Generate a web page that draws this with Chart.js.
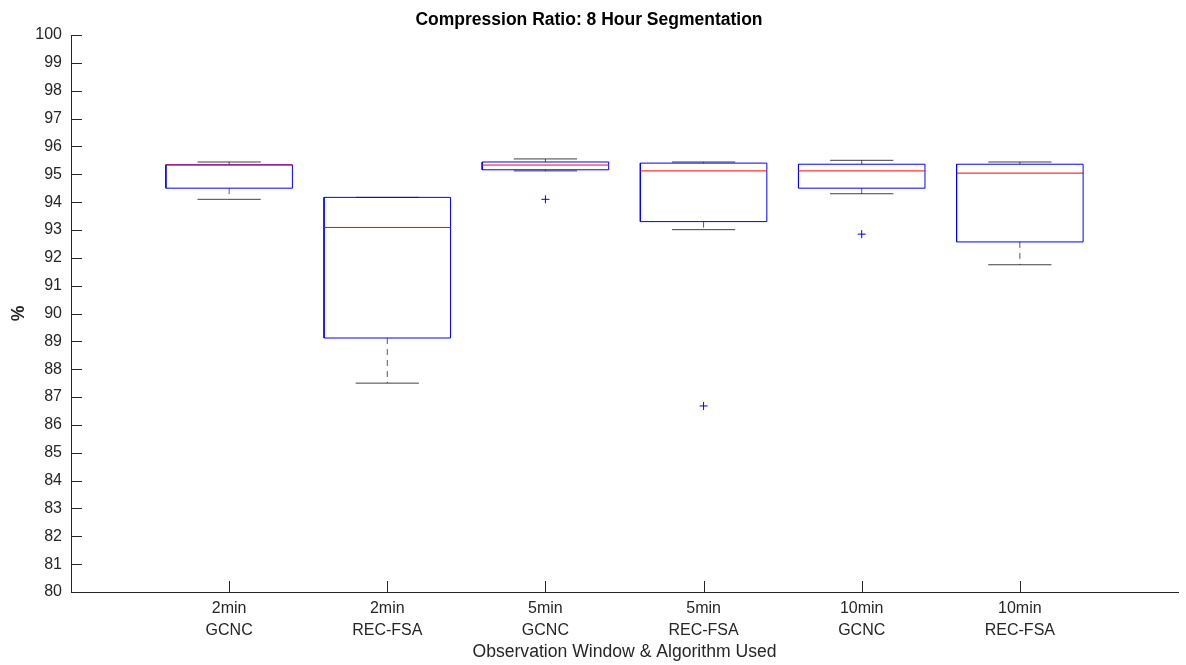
<!DOCTYPE html>
<html>
<head>
<meta charset="utf-8">
<script src="https://cdn.jsdelivr.net/npm/chart.js@4.4.0/dist/chart.umd.min.js"></script>
<style>
  body { margin: 0; background: #fff; }
  canvas { display: block; }
</style>
</head>
<body>
<canvas id="boxChart" width="1186" height="665"></canvas>
<script>
// observation windows / algorithms (two-line category labels)
const windows = ["2min", "2min", "5min", "5min", "10min", "10min"];
const algos = ["GCNC", "REC-FSA", "GCNC", "REC-FSA", "GCNC", "REC-FSA"];

// box plot stats (%)
const whiskerLo = [94.10, 87.50, 95.12, 93.01, 94.30, 91.75];
const q1 = [94.50, 89.12, 95.16, 93.30, 94.50, 92.57];
const median = [95.33, 93.09, 95.33, 95.12, 95.12, 95.04];
const q3 = [95.34, 94.17, 95.44, 95.40, 95.36, 95.36];
const whiskerHi = [95.44, 94.17, 95.55, 95.44, 95.50, 95.44];
const outliers = [[], [], [94.10], [86.68], [92.85], []];

const yTicks = [80, 100];

const BOX_HALF = 0.4;
const CAP_HALF = 0.2;
const GAP = { x: NaN, y: null };

function buildBoxes() {
  const pts = [];
  q1.forEach((lo, i) => {
    const x = i + 1, hi = q3[i];
    pts.push({ x: x - BOX_HALF, y: lo }, { x: x + BOX_HALF, y: lo },
             { x: x + BOX_HALF, y: hi }, { x: x - BOX_HALF, y: hi },
             { x: x - BOX_HALF, y: lo }, GAP);
  });
  return pts;
}

function buildMedians() {
  const pts = [];
  median.forEach((m, i) => {
    pts.push({ x: i + 1 - BOX_HALF, y: m }, { x: i + 1 + BOX_HALF, y: m }, GAP);
  });
  return pts;
}

function buildWhiskers() {
  const pts = [];
  q1.forEach((lo, i) => {
    const x = i + 1;
    if (q3[i] < whiskerHi[i]) pts.push({ x, y: q3[i] }, { x, y: whiskerHi[i] }, GAP);
    if (lo > whiskerLo[i]) pts.push({ x, y: lo }, { x, y: whiskerLo[i] }, GAP);
  });
  return pts;
}

function buildCaps() {
  const pts = [];
  whiskerLo.forEach((lo, i) => {
    const x = i + 1;
    pts.push({ x: x - CAP_HALF, y: lo }, { x: x + CAP_HALF, y: lo }, GAP);
    pts.push({ x: x - CAP_HALF, y: whiskerHi[i] }, { x: x + CAP_HALF, y: whiskerHi[i] }, GAP);
  });
  return pts;
}

function buildOutliers() {
  const pts = [];
  outliers.forEach((list, i) => list.forEach(v => pts.push({ x: i + 1, y: v })));
  return pts;
}

// matlab style inward tick marks
const inwardTicks = {
  id: "inwardTicks",
  afterDatasetsDraw(chart) {
    const { ctx, chartArea, scales } = chart;
    const len = 11;
    ctx.save();
    ctx.strokeStyle = "#262626";
    ctx.lineWidth = 1;
    ctx.beginPath();
    scales.y.ticks.forEach(t => {
      const py = Math.round(scales.y.getPixelForValue(t.value)) + 0.5;
      ctx.moveTo(chartArea.left, py);
      ctx.lineTo(chartArea.left + len, py);
    });
    scales.x.ticks.forEach(t => {
      const px = Math.round(scales.x.getPixelForValue(t.value)) + 0.5;
      ctx.moveTo(px, chartArea.bottom);
      ctx.lineTo(px, chartArea.bottom - len);
    });
    ctx.stroke();
    ctx.restore();
  }
};

Chart.defaults.font.family = "'Liberation Sans', Arial, Helvetica, sans-serif";
Chart.defaults.color = "#262626";

const lineDs = (label, data, color, extra) => Object.assign({
  label, data, showLine: true, spanGaps: false,
  borderColor: color, borderWidth: 1, pointRadius: 0, fill: false
}, extra || {});

new Chart(document.getElementById("boxChart").getContext("2d"), {
  type: "scatter",
  data: {
    datasets: [
      Object.assign(lineDs("median", buildMedians(), "#ff0000"), { order: 0 }),
      {
        label: "outliers", data: buildOutliers(), order: 1,
        pointStyle: "cross", pointRadius: 4, pointBorderColor: "#0000ff",
        pointBorderWidth: 1, showLine: false
      },
      Object.assign(lineDs("box", buildBoxes(), "#0000ff"), { order: 2 }),
      Object.assign(lineDs("caps", buildCaps(), "rgba(0,0,0,0.75)"), { order: 3 }),
      Object.assign(lineDs("whiskers", buildWhiskers(), "rgba(0,0,0,0.65)", { borderDash: [6, 5] }), { order: 4 })
    ]
  },
  options: {
    responsive: false,
    devicePixelRatio: 1,
    animation: false,
    layout: { padding: { left: 0, right: 8, top: 0, bottom: 0 } },
    plugins: {
      legend: { display: false },
      tooltip: { enabled: false },
      title: {
        display: true,
        text: "Compression Ratio: 8 Hour Segmentation",
        color: "#000",
        font: { size: 17.5, weight: "bold" },
        padding: { top: 10, bottom: 4 }
      }
    },
    scales: {
      x: {
        type: "linear",
        min: 0,
        max: windows.length + 1,
        afterBuildTicks: axis => { axis.ticks = windows.map((w, i) => ({ value: i + 1 })); },
        afterFit: scale => { scale.height = 73; },
        grid: { drawOnChartArea: false, drawTicks: false },
        border: { display: true, color: "#262626", width: 1 },
        ticks: {
          autoSkip: false, maxRotation: 0, padding: 6,
          font: { size: 16, lineHeight: 1.35 },
          callback: v => [windows[v - 1], algos[v - 1]]
        },
        title: {
          display: true,
          text: "Observation Window & Algorithm Used",
          font: { size: 17.6 },
          padding: { top: 0, bottom: 2 }
        }
      },
      y: {
        min: yTicks[0],
        max: yTicks[1],
        afterFit: scale => { scale.width = 71; },
        grid: { drawOnChartArea: false, drawTicks: false },
        border: { display: true, color: "#262626", width: 1 },
        ticks: { stepSize: 1, autoSkip: false, padding: 9, font: { size: 16 } },
        title: {
          display: true,
          text: "%",
          font: { size: 17.6, weight: "bold" },
          padding: { top: 9, bottom: 0 }
        }
      }
    }
  },
  plugins: [inwardTicks]
});
</script>
</body>
</html>
